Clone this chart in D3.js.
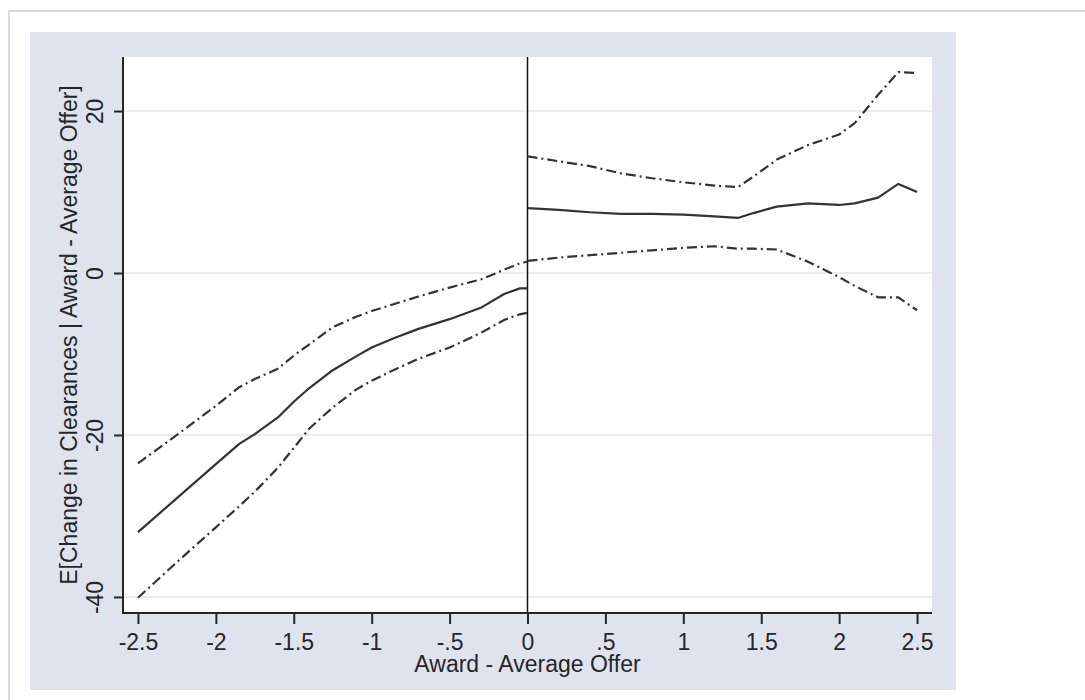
<!DOCTYPE html>
<html>
<head>
<meta charset="utf-8">
<script src="https://cdn.jsdelivr.net/npm/d3@7"></script>
<style>
  body { margin: 0; background: #fff; }
  svg { display: block; font-family: 'Liberation Sans', Arial, sans-serif; }
</style>
</head>
<body>
<svg id="chart" width="1085" height="700"></svg>
<script>
// left of the cutoff (award below average offer)
const xLeft = [-2.5, -2.25, -2.0, -1.85, -1.75, -1.6, -1.5, -1.4, -1.25, -1.1, -1.0, -0.85, -0.7, -0.5, -0.3, -0.15, -0.05, 0]
const fitLeft = [-32.0, -27.8, -23.6, -21.1, -19.9, -17.8, -15.9, -14.2, -12.0, -10.3, -9.2, -8.0, -6.9, -5.7, -4.3, -2.6, -1.9, -1.9]
const upperLeft = [-23.5, -20.0, -16.4, -14.1, -13.1, -11.8, -10.2, -8.8, -6.7, -5.4, -4.7, -3.8, -2.9, -1.8, -0.8, 0.4, 1.2, 1.4]
const lowerLeft = [-40.1, -35.7, -31.4, -28.8, -27.0, -24.0, -21.6, -19.2, -16.6, -14.4, -13.3, -11.9, -10.6, -9.2, -7.4, -5.8, -5.1, -4.9]

// right of the cutoff
const xRight = [0, 0.2, 0.4, 0.6, 0.8, 1.0, 1.2, 1.35, 1.45, 1.6, 1.8, 2.0, 2.1, 2.25, 2.38, 2.5]
const fitRight = [8.0, 7.8, 7.5, 7.3, 7.3, 7.2, 7.0, 6.8, 7.4, 8.2, 8.6, 8.4, 8.6, 9.3, 11.0, 10.0]
const upperRight = [14.4, 13.8, 13.2, 12.3, 11.7, 11.2, 10.8, 10.6, 11.9, 14.0, 15.8, 17.1, 18.5, 22.0, 24.8, 24.7]
const lowerRight = [1.5, 1.9, 2.2, 2.5, 2.8, 3.1, 3.3, 3.0, 3.0, 2.9, 1.4, -0.5, -1.6, -3.0, -3.0, -4.6]

const xTicks = [-2.5, -2, -1.5, -1, -0.5, 0, 0.5, 1, 1.5, 2, 2.5]
const yTicks = [-40, -20, 0, 20]
const xTitle = 'Award - Average Offer'
const yTitle = 'E[Change in Clearances | Award - Average Offer]'

const svg = d3.select('#chart')
const inkColor = '#262626'
const lineColor = '#333'
const dashDot = '10,4,2,4'
const fontSize = 23

// page frame and the stata-ish panel
svg.append('path')
  .attr('d', 'M9,700 V11 H1085')
  .attr('fill', 'none')
  .attr('stroke', '#cfcfcf')
  .attr('stroke-width', 1.5)

svg.append('rect')
  .attr('x', 30).attr('y', 32)
  .attr('width', 926).attr('height', 658)
  .attr('fill', '#dfe3ee')

const margins = { left: 123, top: 57, right: 932, bottom: 613 }

const x = d3.scaleLinear()
  .domain([-2.596, 2.596])
  .range([margins.left, margins.right])

const y = d3.scaleLinear()
  .domain([-41.98, 26.67])
  .range([margins.bottom, margins.top])

svg.append('rect')
  .attr('x', margins.left).attr('y', margins.top)
  .attr('width', margins.right - margins.left)
  .attr('height', margins.bottom - margins.top)
  .attr('fill', '#fff')

// horizontal grid
svg.append('g')
  .selectAll('line')
  .data(yTicks)
  .join('line')
  .attr('x1', margins.left)
  .attr('x2', margins.right)
  .attr('y1', d => y(d))
  .attr('y2', d => y(d))
  .attr('stroke', '#e3e6ef')
  .attr('stroke-width', 1.5)

// cutoff line at zero
svg.append('line')
  .attr('x1', x(0)).attr('x2', x(0))
  .attr('y1', margins.top).attr('y2', margins.bottom)
  .attr('stroke', '#111')
  .attr('stroke-width', 1.5)

const lineFunction = d3.line()
  .x(d => x(d[0]))
  .y(d => y(d[1]))

const series = [
  { xs: xLeft, ys: fitLeft, dash: null },
  { xs: xLeft, ys: upperLeft, dash: dashDot },
  { xs: xLeft, ys: lowerLeft, dash: dashDot },
  { xs: xRight, ys: fitRight, dash: null },
  { xs: xRight, ys: upperRight, dash: dashDot },
  { xs: xRight, ys: lowerRight, dash: dashDot }
]

svg.append('g')
  .selectAll('path')
  .data(series)
  .join('path')
  .attr('d', d => lineFunction(d.xs.map((v, i) => [v, d.ys[i]])))
  .attr('fill', 'none')
  .attr('stroke', lineColor)
  .attr('stroke-width', 2.2)
  .attr('stroke-linejoin', 'round')
  .attr('stroke-dasharray', d => d.dash)

// axes
const fmt = d => d === 0 ? '0' : String(d).replace('0.', '.')

const xAxis = svg.append('g')
  .attr('transform', `translate(0, ${margins.bottom})`)
  .call(d3.axisBottom(x).tickValues(xTicks).tickSize(11).tickFormat(fmt))

const yAxis = svg.append('g')
  .attr('transform', `translate(${margins.left}, 0)`)
  .call(d3.axisLeft(y).tickValues(yTicks).tickSize(9).tickFormat(fmt))

for (const g of [xAxis, yAxis]) {
  g.select('.domain').remove()
  g.selectAll('.tick line').attr('stroke', inkColor).attr('stroke-width', 2)
  g.selectAll('text')
    .attr('fill', inkColor)
    .attr('font-size', fontSize)
    .attr('font-family', "'Liberation Sans', Arial, sans-serif")
}

xAxis.selectAll('text').attr('y', 37).attr('dy', null)

// y tick labels are rotated, stata style
yAxis.selectAll('text')
  .attr('x', null).attr('dy', null)
  .attr('text-anchor', 'middle')
  .attr('transform', 'translate(-20, 0) rotate(-90)')

svg.append('path')
  .attr('d', `M${margins.left},${margins.top} V${margins.bottom} H${margins.right}`)
  .attr('fill', 'none')
  .attr('stroke', inkColor)
  .attr('stroke-width', 2)

svg.append('text')
  .attr('x', (margins.left + margins.right) / 2)
  .attr('y', 672)
  .attr('text-anchor', 'middle')
  .attr('font-size', fontSize)
  .attr('fill', inkColor)
  .text(xTitle)

svg.append('text')
  .attr('transform', `translate(77, ${(margins.top + margins.bottom) / 2}) rotate(-90)`)
  .attr('text-anchor', 'middle')
  .attr('font-size', fontSize)
  .attr('fill', inkColor)
  .text(yTitle)
</script>
</body>
</html>
